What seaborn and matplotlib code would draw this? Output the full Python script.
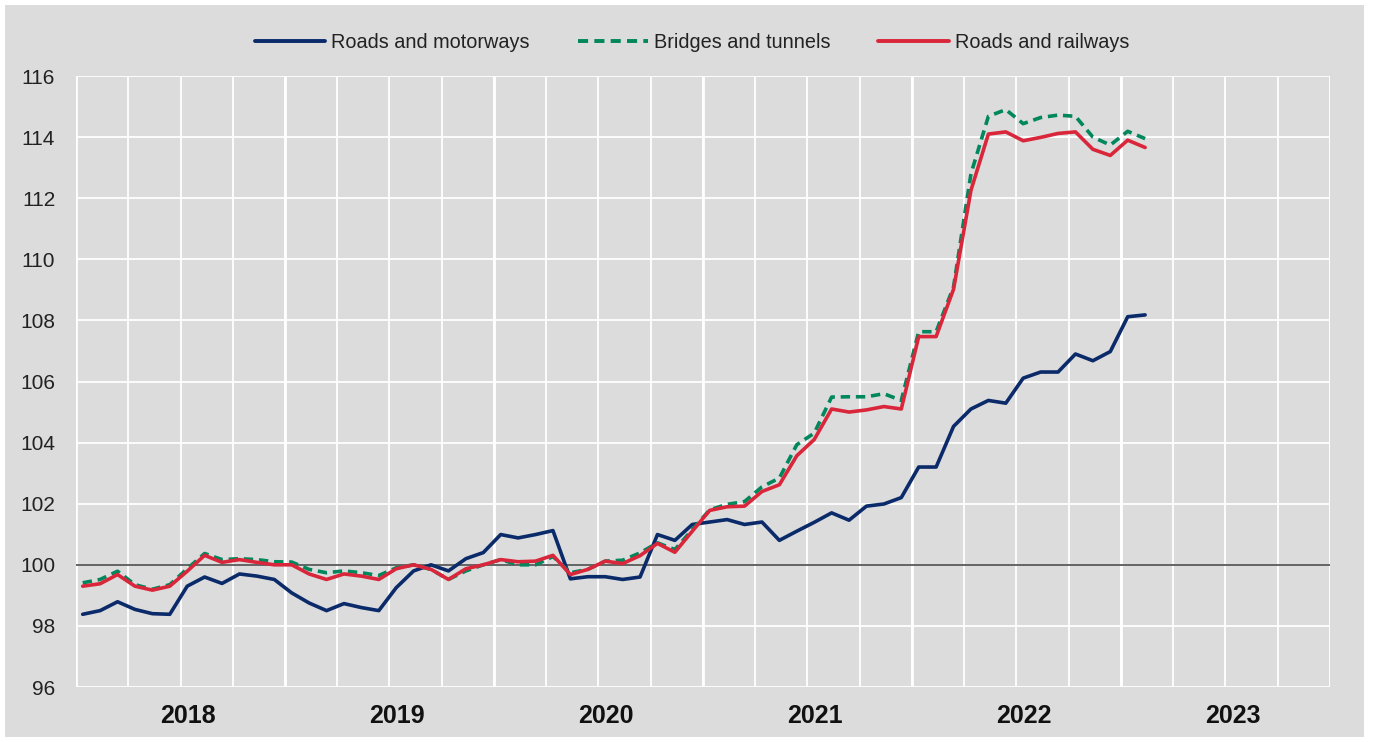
import matplotlib
matplotlib.use("Agg")
import matplotlib.pyplot as plt
import matplotlib.patches as mpatches
import numpy as np
import pandas as pd
import seaborn as sns

# ---------------- data (monthly index, Jan 2018 .. Feb 2023) ----------------
years = ["2018", "2019", "2020", "2021", "2022", "2023"]
series_names = ["Roads and motorways", "Bridges and tunnels", "Roads and railways"]

roads_motorways = [
    98.38, 98.50, 98.79, 98.54, 98.40, 98.38, 99.30, 99.60, 99.39, 99.70, 99.63, 99.52,
    99.08, 98.75, 98.50, 98.73, 98.60, 98.50, 99.25, 99.80, 100.00, 99.80, 100.20, 100.40,
    100.99, 100.88, 100.99, 101.12, 99.54, 99.61, 99.61, 99.52, 99.60, 100.99, 100.80, 101.32,
    101.40, 101.48, 101.32, 101.40, 100.80, 101.10, 101.39, 101.70, 101.46, 101.92, 101.99, 102.20,
    103.20, 103.20, 104.53, 105.10, 105.38, 105.29, 106.11, 106.31, 106.31, 106.90, 106.68, 106.98,
    108.12, 108.18,
]
bridges_tunnels = [
    99.41, 99.52, 99.79, 99.35, 99.20, 99.35, 99.87, 100.37, 100.17, 100.20, 100.17, 100.10,
    100.09, 99.85, 99.74, 99.80, 99.74, 99.65, 99.90, 100.00, 99.85, 99.52, 99.80, 100.00,
    100.17, 100.00, 100.00, 100.27, 99.74, 99.85, 100.12, 100.15, 100.39, 100.72, 100.50, 101.15,
    101.80, 101.98, 102.07, 102.55, 102.84, 103.93, 104.31, 105.49, 105.50, 105.50, 105.60, 105.38,
    107.63, 107.63, 109.10, 112.80, 114.68, 114.90, 114.44, 114.64, 114.72, 114.68, 114.00, 113.74,
    114.19, 113.95,
]
roads_railways = [
    99.30, 99.38, 99.68, 99.30, 99.17, 99.30, 99.79, 100.31, 100.08, 100.17, 100.08, 100.00,
    100.00, 99.70, 99.52, 99.70, 99.63, 99.52, 99.87, 100.00, 99.85, 99.52, 99.87, 100.00,
    100.17, 100.10, 100.12, 100.31, 99.68, 99.85, 100.12, 100.04, 100.30, 100.70, 100.41, 101.10,
    101.78, 101.90, 101.92, 102.40, 102.62, 103.57, 104.10, 105.10, 105.00, 105.07, 105.18, 105.10,
    107.47, 107.47, 109.02, 112.26, 114.10, 114.17, 113.88, 113.99, 114.12, 114.17, 113.60, 113.40,
    113.90, 113.66,
]
y_ticks = [96, 98, 100, 102, 104, 106, 108, 110, 112, 114, 116]

colors = {"Roads and motorways": "#0a2a6a",
          "Bridges and tunnels": "#00875c",
          "Roads and railways": "#d9263a"}

n = len(roads_motorways)
month_pos = np.arange(n) + 0.385  # points sit slightly inside each month
df = pd.DataFrame({
    "month": np.tile(month_pos, 3),
    "value": roads_motorways + bridges_tunnels + roads_railways,
    "series": np.repeat(series_names, n),
})

# ---------------- styling ----------------
BG = "#dcdcdc"
sns.set_theme(style="white")
FONT = ["Liberation Sans Narrow", "Liberation Sans", "DejaVu Sans"]
plt.rcParams["font.family"] = FONT

fig = plt.figure(figsize=(13.74, 7.42), dpi=100)
fig.patch.set_facecolor("white")
fig.patches.append(mpatches.Rectangle((5 / 1374, 5 / 742), 1359 / 1374, 732 / 742,
                                      transform=fig.transFigure, facecolor=BG,
                                      edgecolor="none", zorder=-10))
ax = fig.add_axes([76 / 1374, 1 - 687 / 742, (1330 - 76) / 1374, (687 - 76) / 742])
ax.set_facecolor(BG)

for s in series_names:
    sub = df[df["series"] == s]
    ls = "--" if s == "Bridges and tunnels" else "-"
    sns.lineplot(data=sub, x="month", y="value", ax=ax, color=colors[s], lw=2.6,
                 linestyle=ls, label=s, zorder=3)
for line in ax.get_lines():
    if line.get_linestyle() == "--":
        line.set_dashes((2.6, 1.6))

ax.axhline(100, color="#4a4a4a", lw=1.2, zorder=2)

ax.set_xlim(0, 72)
ax.set_ylim(96, 116)
ax.set_yticks(y_ticks)
ax.set_yticklabels([str(v) for v in y_ticks])
ax.set_xticks(np.arange(0, 73, 3), minor=True)
ax.set_xticks([6.4 + 12 * i for i in range(len(years))])
ax.set_xticklabels(years)
ax.grid(False)
ax.grid(True, axis="y", which="major", color="white", lw=1.3, zorder=1)
ax.grid(True, axis="x", which="minor", color="white", lw=1.3, zorder=1)
for xb in range(0, 73, 12):
    ax.axvline(xb, color="white", lw=2.0, zorder=1)
for sp in ax.spines.values():
    sp.set_visible(False)

ax.tick_params(axis="both", which="both", length=0)
ax.tick_params(axis="y", pad=15, labelsize=15, labelcolor="#222222")
ax.tick_params(axis="x", which="major", pad=12, labelsize=18, labelcolor="#111111")
for lab in ax.get_xticklabels():
    lab.set_fontweight("bold")
ax.set_xlabel("")
ax.set_ylabel("")

leg = ax.legend(loc="center", bbox_to_anchor=(692 / 1374, 1 - 42 / 742),
                bbox_transform=fig.transFigure, ncol=3, frameon=False,
                fontsize=14.3, handlelength=3.55, handletextpad=0.3, columnspacing=2.4,
                borderpad=0)
for t in leg.get_texts():
    t.set_color("#222222")
for h in leg.get_lines():
    h.set_linewidth(2.8)

fig.savefig("out.png", dpi=100, facecolor=fig.get_facecolor())
